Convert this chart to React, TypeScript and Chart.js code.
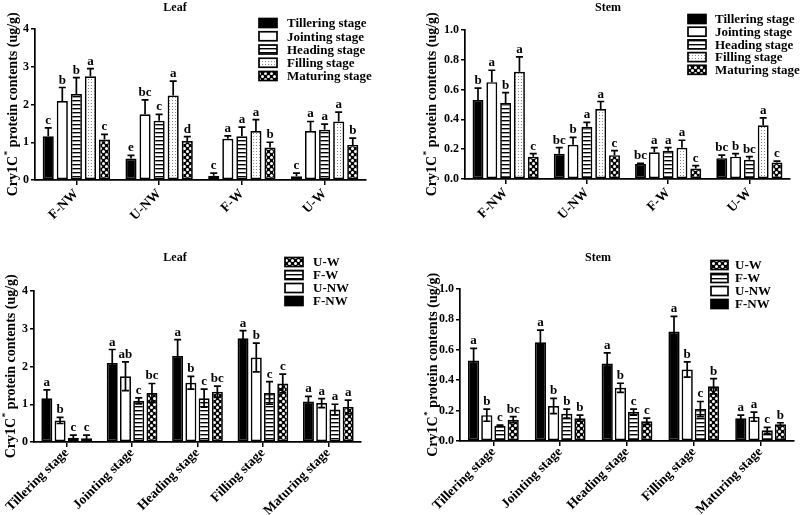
import React, { useEffect, useRef } from 'react';
import { Chart, registerables } from 'chart.js';
Chart.register(...registerables);

const treatments = ['F-NW', 'U-NW', 'F-W', 'U-W'];
const stages = ['Tillering stage', 'Jointing stage', 'Heading stage', 'Filling stage', 'Maturing stage'];

// Leaf Cry1C* content (ug/g), per treatment across the five stages
const leafFNW = [1.16, 2.09, 2.28, 2.75, 1.07];
const leafUNW = [0.57, 1.74, 1.57, 2.24, 1.03];
const leafFW = [0.11, 1.09, 1.16, 1.30, 0.86];
const leafUW = [0.10, 1.30, 1.33, 1.55, 0.93];
const leafSdFNW = [0.22, 0.36, 0.43, 0.20, 0.14];
const leafSdUNW = [0.08, 0.38, 0.17, 0.38, 0.12];
const leafSdFW = [0.07, 0.08, 0.24, 0.30, 0.14];
const leafSdUW = [0.08, 0.25, 0.15, 0.25, 0.18];

// Stem Cry1C* content (ug/g)
const stemFNW = [0.53, 0.65, 0.51, 0.72, 0.15];
const stemUNW = [0.17, 0.23, 0.35, 0.47, 0.16];
const stemFW = [0.10, 0.18, 0.19, 0.21, 0.07];
const stemUW = [0.14, 0.15, 0.13, 0.36, 0.11];
const stemSdFNW = [0.08, 0.08, 0.07, 0.10, 0.02];
const stemSdUNW = [0.04, 0.05, 0.03, 0.05, 0.03];
const stemSdFW = [0.005, 0.03, 0.02, 0.05, 0.02];
const stemSdUW = [0.02, 0.02, 0.02, 0.05, 0.01];

// Significance letters, top panels (one row per stage, across treatments)
const leafLettersByStage = [['c', 'e', 'c', 'c'], ['b', 'bc', 'a', 'a'], ['b', 'c', 'a', 'a'], ['a', 'a', 'a', 'a'], ['c', 'd', 'b', 'b']];
const stemLettersByStage = [['b', 'bc', 'bc', 'bc'], ['a', 'b', 'a', 'b'], ['b', 'a', 'a', 'bc'], ['a', 'a', 'a', 'a'], ['c', 'c', 'c', 'c']];
// Significance letters, bottom panels (one row per treatment, across stages)
const leafLettersByTreatment = [['a', 'a', 'a', 'a', 'a'], ['b', 'ab', 'b', 'b', 'a'], ['c', 'c', 'c', 'c', 'a'], ['c', 'bc', 'bc', 'c', 'a']];
const stemLettersByTreatment = [['a', 'a', 'a', 'a', 'a'], ['b', 'b', 'b', 'b', 'a'], ['c', 'b', 'c', 'c', 'c'], ['bc', 'b', 'c', 'b', 'b']];

const leafMeans = [leafFNW, leafUNW, leafFW, leafUW];
const leafSds = [leafSdFNW, leafSdUNW, leafSdFW, leafSdUW];
const stemMeans = [stemFNW, stemUNW, stemFW, stemUW];
const stemSds = [stemSdFNW, stemSdUNW, stemSdFW, stemSdUW];

const FONT = '"Liberation Serif", "Times New Roman", serif';

function tile(w: number, h: number, draw: (g: CanvasRenderingContext2D) => void): CanvasPattern {
  const c = document.createElement('canvas');
  c.width = w;
  c.height = h;
  const g = c.getContext('2d')!;
  draw(g);
  return g.createPattern(c, 'repeat')!;
}

function makeFills() {
  const solid = '#000000';
  const white = '#ffffff';
  const stripes = tile(4, 4, (g) => {
    g.fillStyle = '#fff';
    g.fillRect(0, 0, 4, 4);
    g.fillStyle = '#000';
    g.fillRect(0, 0, 4, 1);
    g.fillStyle = '#999';
    g.fillRect(0, 1, 4, 1);
  });
  const dots = tile(3, 3, (g) => {
    g.fillStyle = '#fff';
    g.fillRect(0, 0, 3, 3);
    g.fillStyle = '#888';
    g.fillRect(1, 1, 1, 1);
  });
  const checker = tile(6, 6, (g) => {
    g.fillStyle = '#000';
    g.fillRect(0, 0, 6, 6);
    g.fillStyle = '#fff';
    g.beginPath();
    g.arc(1.5, 1.5, 1.5, 0, Math.PI * 2);
    g.fill();
    g.beginPath();
    g.arc(4.5, 4.5, 1.5, 0, Math.PI * 2);
    g.fill();
  });
  return { solid, white, stripes, dots, checker };
}

type Series = { label: string; data: number[]; sd: number[]; letters: string[]; fillKey: string };
type PanelCfg = {
  left: number; top: number; width: number; height: number;
  area: { left: number; right: number; top: number; bottom: number };
  labels: string[];
  series: Series[];
  yMax: number; yStep: number; decimals: number;
  title: string; titleX: number; titleY: number; yTitleX: number;
  legend: { boxX: number; boxW: number; boxH: number; textX: number; y0: number; dy: number; order: number[] };
  catPct: number; barPct: number; bothSides: boolean; xFont: number; xPad: number;
};

const stageFillKeys = ['solid', 'white', 'stripes', 'dots', 'checker'];
const treatmentFillKeys = ['solid', 'white', 'stripes', 'checker'];

function topSeries(means: number[][], sds: number[][], letters: string[][]): Series[] {
  return stages.map((st, s) => ({
    label: st,
    data: treatments.map((_, t) => means[t][s]),
    sd: treatments.map((_, t) => sds[t][s]),
    letters: letters[s],
    fillKey: stageFillKeys[s],
  }));
}
function bottomSeries(means: number[][], sds: number[][], letters: string[][]): Series[] {
  return treatments.map((tr, t) => ({
    label: tr,
    data: means[t],
    sd: sds[t],
    letters: letters[t],
    fillKey: treatmentFillKeys[t],
  }));
}

const panels: PanelCfg[] = [
  {
    left: 0, top: 0, width: 400, height: 250,
    area: { left: 35, right: 366, top: 29, bottom: 180 },
    labels: treatments,
    series: topSeries(leafMeans, leafSds, leafLettersByStage),
    yMax: 4, yStep: 1, decimals: 0,
    title: 'Leaf', titleX: 175, titleY: 8, yTitleX: 13,
    legend: { boxX: 259, boxW: 18, boxH: 9, textX: 287, y0: 23, dy: 13.25, order: [0, 1, 2, 3, 4] },
    catPct: 0.85, barPct: 0.79, bothSides: false, xFont: 13.5, xPad: 1,
  },
  {
    left: 400, top: 0, width: 400, height: 250,
    area: { left: 65, right: 390, top: 30, bottom: 179 },
    labels: treatments,
    series: topSeries(stemMeans, stemSds, stemLettersByStage),
    yMax: 1, yStep: 0.2, decimals: 1,
    title: 'Stem', titleX: 208, titleY: 8, yTitleX: 32,
    legend: { boxX: 288, boxW: 18, boxH: 9, textX: 315, y0: 19, dy: 12.7, order: [0, 1, 2, 3, 4] },
    catPct: 0.85, barPct: 0.79, bothSides: false, xFont: 13.5, xPad: 1,
  },
  {
    left: 0, top: 250, width: 400, height: 265,
    area: { left: 34, right: 361, top: 41, bottom: 192 },
    labels: stages,
    series: bottomSeries(leafMeans, leafSds, leafLettersByTreatment),
    yMax: 4, yStep: 1, decimals: 0,
    title: 'Leaf', titleX: 175, titleY: 8, yTitleX: 11,
    legend: { boxX: 285, boxW: 18, boxH: 9, textX: 313, y0: 12, dy: 13, order: [3, 2, 1, 0] },
    catPct: 0.81, barPct: 0.83, bothSides: true, xFont: 13.5, xPad: -2,
  },
  {
    left: 400, top: 250, width: 400, height: 265,
    area: { left: 60, right: 394, top: 39, bottom: 191 },
    labels: stages,
    series: bottomSeries(stemMeans, stemSds, stemLettersByTreatment),
    yMax: 1, yStep: 0.2, decimals: 1,
    title: 'Stem', titleX: 198, titleY: 8, yTitleX: 33,
    legend: { boxX: 311, boxW: 17, boxH: 9, textX: 335, y0: 15, dy: 13, order: [3, 2, 1, 0] },
    catPct: 0.79, barPct: 0.85, bothSides: true, xFont: 13.5, xPad: -2,
  },
];

function Panel({ cfg }: { cfg: PanelCfg }) {
  const ref = useRef<HTMLCanvasElement>(null);
  useEffect(() => {
    const fills: any = makeFills();
    const plugin = {
      id: 'decor',
      afterDatasetsDraw(chart: any) {
        const ctx: CanvasRenderingContext2D = chart.ctx;
        const y = chart.scales.y;
        ctx.save();
        ctx.strokeStyle = '#000';
        ctx.fillStyle = '#000';
        ctx.lineWidth = 1.7;
        ctx.font = `bold 13px ${FONT}`;
        ctx.textAlign = 'center';
        ctx.textBaseline = 'alphabetic';
        cfg.series.forEach((s, di) => {
          const meta = chart.getDatasetMeta(di);
          meta.data.forEach((bar: any, i: number) => {
            const v = s.data[i];
            const sd = s.sd[i];
            const x = bar.x;
            const yTop = y.getPixelForValue(v + sd);
            const yBar = y.getPixelForValue(v);
            const yLow = cfg.bothSides ? y.getPixelForValue(v - sd) : yBar;
            ctx.beginPath();
            ctx.moveTo(x, yLow);
            ctx.lineTo(x, yTop);
            ctx.moveTo(x - 3.5, yTop);
            ctx.lineTo(x + 3.5, yTop);
            if (cfg.bothSides) {
              ctx.moveTo(x - 3.5, yLow);
              ctx.lineTo(x + 3.5, yLow);
            }
            ctx.stroke();
            ctx.fillText(s.letters[i], x, yTop - 4);
          });
        });
        ctx.restore();
      },
      afterDraw(chart: any) {
        const ctx: CanvasRenderingContext2D = chart.ctx;
        ctx.save();
        ctx.fillStyle = '#000';
        // title
        ctx.font = `bold 12px ${FONT}`;
        ctx.textAlign = 'center';
        ctx.textBaseline = 'middle';
        ctx.fillText(cfg.title, cfg.titleX, cfg.titleY);
        // legend
        const L = cfg.legend;
        ctx.font = `bold 13px ${FONT}`;
        ctx.textAlign = 'left';
        L.order.forEach((di, r) => {
          const s = cfg.series[di];
          const cy = L.y0 + r * L.dy;
          ctx.fillStyle = fills[s.fillKey];
          ctx.fillRect(L.boxX, cy - L.boxH / 2, L.boxW, L.boxH);
          ctx.strokeStyle = '#000';
          ctx.lineWidth = 1.7;
          ctx.strokeRect(L.boxX, cy - L.boxH / 2, L.boxW, L.boxH);
          ctx.fillStyle = '#000';
          ctx.fillText(s.label, L.textX, cy + 1);
        });
        // y-axis title
        const a = chart.chartArea;
        const cy = (a.top + a.bottom) / 2;
        ctx.translate(cfg.yTitleX, cy);
        ctx.rotate(-Math.PI / 2);
        const big = `bold 14px ${FONT}`;
        const small = `bold 9px ${FONT}`;
        const p1 = 'Cry1C';
        const p2 = '*';
        const p3 = ' protein contents (ug/g)';
        ctx.font = big;
        const w1 = ctx.measureText(p1).width;
        const w3 = ctx.measureText(p3).width;
        ctx.font = small;
        const w2 = ctx.measureText(p2).width;
        const start = -(w1 + w2 + w3) / 2;
        ctx.textBaseline = 'middle';
        ctx.font = big;
        ctx.fillText(p1, start, 0);
        ctx.font = small;
        ctx.fillText(p2, start + w1 + 0.5, -5);
        ctx.font = big;
        ctx.fillText(p3, start + w1 + w2 + 0.5, 0);
        ctx.restore();
      },
    };

    const chart = new Chart(ref.current!, {
      type: 'bar',
      data: {
        labels: cfg.labels,
        datasets: cfg.series.map((s) => ({
          label: s.label,
          data: s.data,
          backgroundColor: fills[s.fillKey],
          borderColor: '#000',
          borderWidth: 1.7,
          borderSkipped: false,
          categoryPercentage: cfg.catPct,
          barPercentage: cfg.barPct,
        })),
      },
      options: {
        responsive: false,
        animation: false,
        devicePixelRatio: 1,
        layout: { padding: { left: 0, top: cfg.area.top, right: cfg.width - cfg.area.right, bottom: 0 } },
        plugins: { legend: { display: false }, title: { display: false }, tooltip: { enabled: false } },
        scales: {
          x: {
            afterFit: (s: any) => { s.height = cfg.height - cfg.area.bottom; },
            grid: { display: true, offset: false, drawOnChartArea: false, drawTicks: true, tickLength: 5, color: '#000', lineWidth: 1.5 },
            border: { display: true, color: '#000', width: 1.7 },
            ticks: {
              autoSkip: false, maxRotation: 45, minRotation: 45, padding: cfg.xPad, color: '#000',
              font: { family: FONT, weight: 'bold', size: cfg.xFont },
            },
          },
          y: {
            min: 0, max: cfg.yMax,
            afterFit: (s: any) => { s.width = cfg.area.left; },
            grid: { display: true, drawOnChartArea: false, drawTicks: true, tickLength: 4, color: '#000', lineWidth: 1.5 },
            border: { display: true, color: '#000', width: 1.7 },
            ticks: {
              stepSize: cfg.yStep, padding: 2, color: '#000',
              font: { family: FONT, weight: 'bold', size: 12 },
              callback: (v: any) => Number(v).toFixed(cfg.decimals),
            },
          },
        },
      } as any,
      plugins: [plugin],
    });
    return () => chart.destroy();
  }, []);
  return (
    <canvas
      ref={ref}
      width={cfg.width}
      height={cfg.height}
      style={{ position: 'absolute', left: cfg.left, top: cfg.top, width: cfg.width, height: cfg.height }}
    />
  );
}

export default function App() {
  return (
    <div style={{ position: 'absolute', left: 0, top: 0, width: 800, height: 515, background: '#fff', overflow: 'hidden' }}>
      {panels.map((p, i) => (
        <Panel key={i} cfg={p} />
      ))}
    </div>
  );
}
